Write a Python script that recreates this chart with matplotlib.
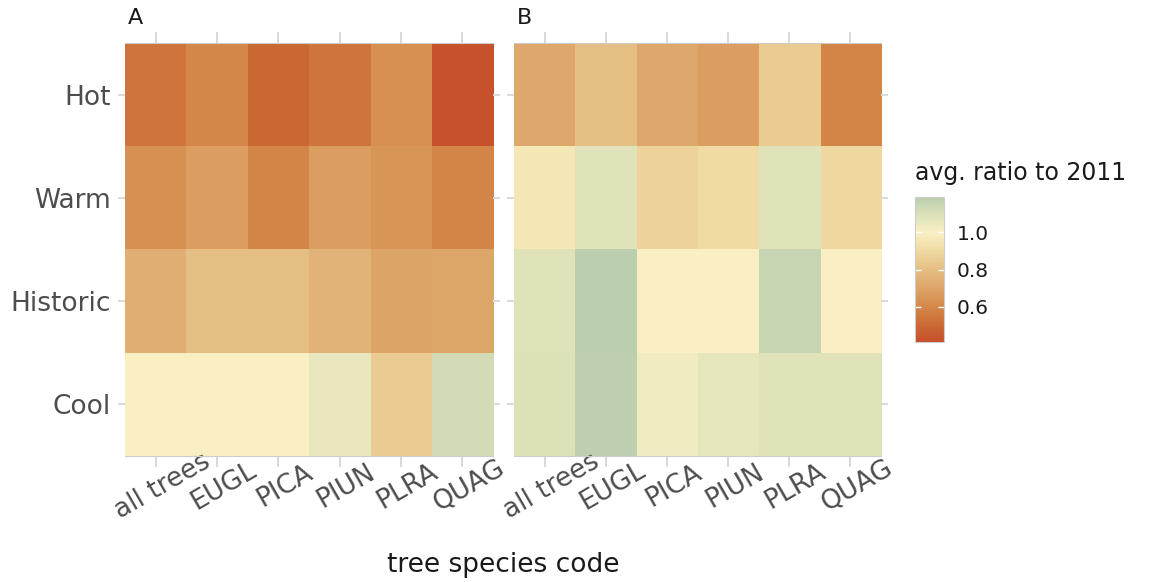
import numpy as np
import matplotlib
matplotlib.use("Agg")
import matplotlib.pyplot as plt
from matplotlib.colors import LinearSegmentedColormap, Normalize

# ======================================================
# DATA
# ======================================================
species = ["all trees", "EUGL", "PICA", "PIUN", "PLRA", "QUAG"]
scenarios = ["Hot", "Warm", "Historic", "Cool"]   # top to bottom

# panel A: rows = Hot, Warm, Historic, Cool
ratio_a_hot      = [0.54, 0.60, 0.50, 0.54, 0.63, 0.42]
ratio_a_warm     = [0.63, 0.68, 0.59, 0.68, 0.65, 0.59]
ratio_a_historic = [0.74, 0.80, 0.80, 0.76, 0.70, 0.71]
ratio_a_cool     = [1.00, 1.00, 1.00, 1.05, 0.85, 1.12]

# panel B
ratio_b_hot      = [0.72, 0.80, 0.72, 0.68, 0.85, 0.59]
ratio_b_warm     = [0.96, 1.08, 0.88, 0.91, 1.08, 0.90]
ratio_b_historic = [1.08, 1.19, 1.00, 1.00, 1.15, 1.00]
ratio_b_cool     = [1.09, 1.18, 1.03, 1.06, 1.08, 1.08]

cbar_ticks = [0.6, 0.8, 1.0]
vmin, vmax = 0.41, 1.19

# ======================================================
# COLOUR SCALE
# ======================================================
anchors = [
    (0.41, "#C64F2B"),
    (0.50, "#CB6934"),
    (0.60, "#D4884A"),
    (0.70, "#DDA467"),
    (0.80, "#E5BE84"),
    (0.90, "#EFD9A1"),
    (1.00, "#FAF0C4"),
    (1.10, "#DAE0B8"),
    (1.19, "#BBCEAF"),
]
cmap = LinearSegmentedColormap.from_list(
    "ratio", [((v - vmin) / (vmax - vmin), c) for v, c in anchors]
)
norm = Normalize(vmin=vmin, vmax=vmax)

# ======================================================
# FIGURE
# ======================================================
W, H = 1162, 582
fig = plt.figure(figsize=(W / 100, H / 100), dpi=100)

def px_axes(x0, y0, x1, y1):
    return fig.add_axes([x0 / W, 1 - y1 / H, (x1 - x0) / W, (y1 - y0) / H])

grid_col = "#D9D9D9"
txt_col = "#4D4D4D"

panels = [
    ("A", px_axes(125, 43, 493, 456),
     [ratio_a_hot, ratio_a_warm, ratio_a_historic, ratio_a_cool], True),
    ("B", px_axes(514, 43, 881, 456),
     [ratio_b_hot, ratio_b_warm, ratio_b_historic, ratio_b_cool], False),
]

for tag, ax, rows, show_y in panels:
    data = np.array(rows)
    ax.imshow(data, cmap=cmap, norm=norm, aspect="auto",
              extent=(-0.5, len(species) - 0.5, len(scenarios) - 0.5, -0.5),
              interpolation="nearest")
    ax.set_xlim(-0.5, len(species) - 0.5)
    ax.set_ylim(len(scenarios) - 0.5, -0.5)

    ax.set_xticks(range(len(species)))
    ax.set_xticklabels(species, rotation=30, ha="center", va="top",
                       rotation_mode="anchor", fontsize=19, color=txt_col)
    ax.set_yticks(range(len(scenarios)))
    ax.set_yticklabels(scenarios if show_y else [], fontsize=19, color=txt_col)

    ax.tick_params(axis="x", length=8, width=1.4, color=grid_col,
                   top=True, bottom=True, pad=5.5)
    ax.tick_params(axis="y", length=5, width=1.4, color=grid_col,
                   left=True, right=True, pad=5.2)

    for side in ["left", "right"]:
        ax.spines[side].set_visible(False)
    for side in ["top", "bottom"]:
        ax.spines[side].set_color("#CCCCCC")
        ax.spines[side].set_linewidth(0.8)

    ax.text(0.008, 1.046, tag, transform=ax.transAxes, fontsize=16,
            color="#1A1A1A", ha="left", va="baseline")

# ======================================================
# COLOUR BAR
# ======================================================
cax = px_axes(915, 197, 944, 342)
cb = fig.colorbar(plt.cm.ScalarMappable(norm=norm, cmap=cmap), cax=cax,
                  ticks=cbar_ticks)
cb.outline.set_edgecolor("#CCCCCC")
cb.outline.set_linewidth(0.8)
cax.tick_params(direction="in", color="white", length=4, width=1,
                left=True, right=True, labelsize=14.5, labelcolor="#1A1A1A",
                pad=9)
cax.set_yticklabels([f"{t:.1f}" for t in cbar_ticks])

fig.text(915 / W, 1 - 173 / H, "avg. ratio to 2011", fontsize=17,
         color="#1A1A1A", ha="left", va="center")

fig.text(503 / W, 1 - 565 / H, "tree species code", fontsize=19,
         color="#1A1A1A", ha="center", va="center")

fig.savefig("out.png", dpi=100)
